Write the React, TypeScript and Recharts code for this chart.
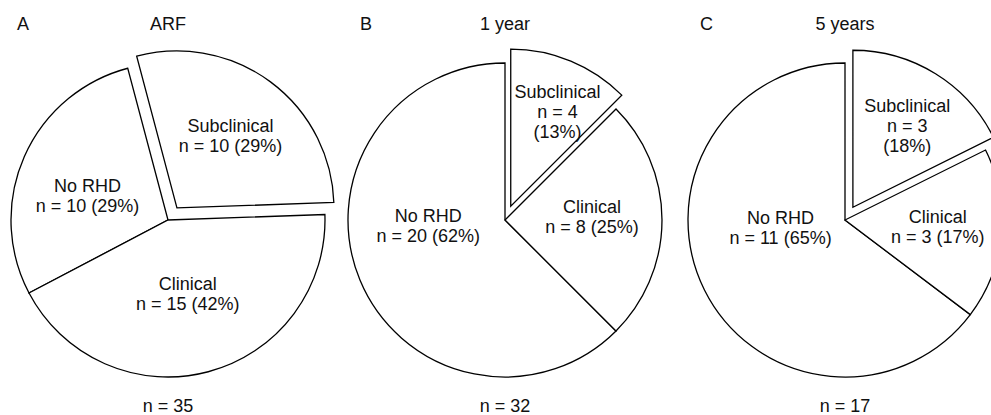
import { PieChart, Pie, Cell } from 'recharts';

// values (counts and the printed percentages)
const arfNames = ['Subclinical', 'No RHD', 'Clinical'];
const arfCounts = [10, 10, 15];
const arfPct = [29, 29, 42];

const year1Names = ['No RHD', 'Clinical', 'Subclinical'];
const year1Counts = [20, 8, 4];
const year1Pct = [62, 25, 13];

const year5Names = ['No RHD', 'Clinical', 'Subclinical'];
const year5Counts = [11, 3, 3];
const year5Pct = [65, 17, 18];

const panelLetters = ['A', 'B', 'C'];
const panelTitles = ['ARF', '1 year', '5 years'];

const W = 991;
const H = 415;
const CY = 220;
const RADIUS = 157;
const EXPLODE = 15;
const FONT = '"Liberation Sans", Arial, Helvetica, sans-serif';

type Slice = { name: string; n: number; pct: number };

const build = (names: string[], counts: number[], pct: number[]): Slice[] =>
  names.map((name, i) => ({ name, n: counts[i], pct: pct[i] }));

// layout only: pie centre, start angle, label radius / angle shift / stacked text
const charts = [
  {
    data: build(arfNames, arfCounts, arfPct),
    cx: 168,
    startAngle: 2,
    letterX: 17,
    labels: [
      { r: 90, shift: 0, stack: false },
      { r: 84, shift: 7, stack: false },
      { r: 77, shift: 0, stack: false },
    ],
  },
  {
    data: build(year1Names, year1Counts, year1Pct),
    cx: 505,
    startAngle: 90,
    letterX: 360,
    labels: [
      { r: 77, shift: -18, stack: false },
      { r: 87, shift: 2, stack: false },
      { r: 105, shift: -4, stack: true },
    ],
  },
  {
    data: build(year5Names, year5Counts, year5Pct),
    cx: 845,
    startAngle: 90,
    letterX: 700,
    labels: [
      { r: 65, shift: -19, stack: false },
      { r: 93, shift: 1, stack: false },
      { r: 98, shift: -2, stack: true },
    ],
  },
];

const RAD = Math.PI / 180;

function makeLabel(chart: (typeof charts)[number], exploded: boolean, expIdx: number) {
  return (props: any) => {
    const { cx, cy, midAngle, index } = props;
    if ((index === expIdx) !== exploded) return null;
    const d = chart.data[index];
    const lp = chart.labels[index];
    const a = (midAngle + lp.shift) * RAD;
    const x = cx + lp.r * Math.cos(a);
    const y = cy - lp.r * Math.sin(a);
    const lines = lp.stack
      ? [d.name, `n = ${d.n}`, `(${d.pct}%)`]
      : [d.name, `n = ${d.n} (${d.pct}%)`];
    return (
      <text
        x={x}
        y={y}
        textAnchor="middle"
        fontFamily={FONT}
        fontSize={18}
        fill="#111"
      >
        {lines.map((t, i) => (
          <tspan key={i} x={x} y={y + (i - (lines.length - 1) / 2) * 20} dominantBaseline="central">
            {t}
          </tspan>
        ))}
      </text>
    );
  };
}

export default function App() {
  return (
    <div style={{ position: 'absolute', left: 0, top: 0, width: W, height: H, background: '#fff' }}>
      <PieChart width={W} height={H} margin={{ top: 0, right: 0, bottom: 0, left: 0 }}>
        {charts.map((c, ci) => {
          const total = c.data.reduce((s, d) => s + d.n, 0);
          const expIdx = c.data.findIndex((d) => d.name === 'Subclinical');
          const before = c.data.slice(0, expIdx).reduce((s, d) => s + d.n, 0);
          const mid = (c.startAngle + ((before + c.data[expIdx].n / 2) / total) * 360) * RAD;
          const ox = EXPLODE * Math.cos(mid);
          const oy = -EXPLODE * Math.sin(mid);
          return [
            <Pie
              key={`base${ci}`}
              data={c.data}
              dataKey="n"
              nameKey="name"
              cx={c.cx}
              cy={CY}
              outerRadius={RADIUS}
              startAngle={c.startAngle}
              endAngle={c.startAngle + 360}
              isAnimationActive={false}
              labelLine={false}
              label={makeLabel(c, false, expIdx)}
            >
              {c.data.map((d, i) => (
                <Cell
                  key={d.name}
                  fill={i === expIdx ? 'none' : '#fff'}
                  stroke={i === expIdx ? 'none' : '#000'}
                  strokeWidth={1.3}
                />
              ))}
            </Pie>,
            <Pie
              key={`exp${ci}`}
              data={c.data}
              dataKey="n"
              nameKey="name"
              cx={c.cx + ox}
              cy={CY + oy}
              outerRadius={RADIUS}
              startAngle={c.startAngle}
              endAngle={c.startAngle + 360}
              isAnimationActive={false}
              labelLine={false}
              label={makeLabel(c, true, expIdx)}
            >
              {c.data.map((d, i) => (
                <Cell
                  key={d.name}
                  fill={i === expIdx ? '#fff' : 'none'}
                  stroke={i === expIdx ? '#000' : 'none'}
                  strokeWidth={1.3}
                />
              ))}
            </Pie>,
            <text key={`l${ci}`} x={c.letterX} y={30} fontFamily={FONT} fontSize={18} fill="#111">
              {panelLetters[ci]}
            </text>,
            <text key={`t${ci}`} x={c.cx} y={30} textAnchor="middle" fontFamily={FONT} fontSize={18} fill="#111">
              {panelTitles[ci]}
            </text>,
            <text key={`n${ci}`} x={c.cx} y={412} textAnchor="middle" fontFamily={FONT} fontSize={18} fill="#111">
              {`n = ${total}`}
            </text>,
          ];
        })}
      </PieChart>
    </div>
  );
}
